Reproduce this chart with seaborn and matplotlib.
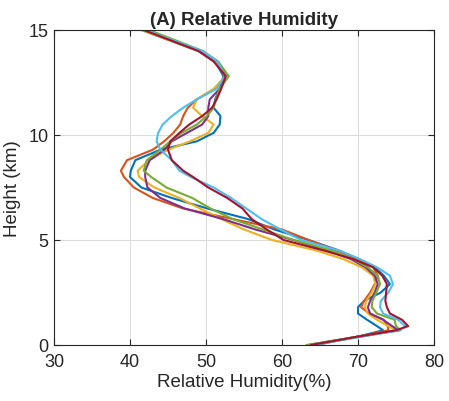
import numpy as np
import pandas as pd
import matplotlib
matplotlib.use("Agg")
import matplotlib.pyplot as plt
import seaborn as sns

heights = [0, 0.4, 0.7, 0.9, 1.2, 1.5, 1.8, 2.1, 2.5, 2.9, 3.3, 3.7, 4.1, 4.5,
           5.0, 5.5, 6.0, 6.5, 7.0, 7.5, 8.0, 8.3, 8.8, 9.3, 9.7, 10.1, 10.5,
           10.9, 11.3, 11.7, 12.2, 12.8, 13.5, 14.0, 15.0]

rh_s1 = [64.5, 70.0, 73.3, 72.5, 71.2, 70.0, 70.0, 70.8, 73.0, 74.2, 73.4, 72.2, 70.0, 67.5,
         63.5, 59.0, 55.5, 50.2, 45.5, 41.5, 40.0, 40.1, 40.7, 44.0, 48.8, 51.0, 51.8,
         51.9, 51.0, 51.2, 51.8, 52.3, 51.2, 49.0, 41.5]
rh_s2 = [64.0, 70.0, 74.0, 73.9, 73.4, 71.5, 70.4, 70.8, 71.6, 72.2, 72.6, 72.0, 70.0, 67.2,
         63.5, 60.0, 53.5, 47.0, 43.0, 40.5, 39.2, 38.8, 39.6, 43.0, 44.5, 45.7, 46.6,
         47.0, 47.6, 48.8, 51.2, 52.5, 51.3, 49.2, 41.8]
rh_s3 = [64.0, 70.5, 75.0, 74.0, 72.5, 71.3, 70.9, 71.1, 71.8, 72.3, 72.0, 70.5, 68.0, 64.5,
         58.7, 55.0, 52.0, 49.2, 46.5, 43.2, 41.2, 41.0, 42.5, 45.0, 47.9, 50.3, 51.0,
         49.5, 48.3, 48.8, 51.0, 52.6, 51.3, 49.0, 41.5]
rh_s4 = [63.5, 70.0, 75.3, 74.5, 73.3, 71.6, 71.3, 71.6, 72.2, 72.6, 72.2, 71.0, 69.0, 66.0,
         61.5, 56.5, 52.2, 47.2, 44.0, 42.3, 42.0, 42.0, 42.6, 44.5, 45.5, 47.5, 49.5,
         50.3, 50.3, 50.5, 51.8, 52.6, 51.5, 49.3, 42.0]
rh_s5 = [63.2, 70.0, 75.6, 75.0, 74.8, 72.5, 71.8, 71.9, 72.4, 72.9, 72.6, 71.3, 69.3, 66.5,
         61.5, 57.5, 53.5, 50.6, 48.2, 44.8, 42.8, 41.8, 42.2, 44.0, 45.3, 46.8, 48.8,
         50.1, 51.0, 51.3, 51.8, 53.0, 51.6, 49.6, 42.5]
rh_s6 = [64.0, 70.5, 75.5, 76.2, 75.3, 73.3, 72.9, 73.0, 74.0, 74.6, 74.2, 72.5, 70.2, 67.5,
         62.5, 59.8, 57.3, 55.3, 53.3, 51.0, 48.0, 46.5, 45.5, 44.0, 43.5, 43.7, 44.3,
         45.5, 47.0, 48.8, 51.4, 52.5, 51.5, 49.5, 42.0]
rh_s7 = [63.8, 70.0, 75.0, 76.6, 75.8, 74.2, 73.8, 73.6, 73.7, 73.8, 73.2, 72.0, 69.3, 65.5,
         60.2, 58.0, 56.0, 54.8, 52.8, 50.3, 48.3, 47.0, 45.5, 45.0, 45.3, 46.5, 47.8,
         49.5, 50.8, 51.4, 52.0, 52.6, 51.0, 49.0, 41.8]

series_names = ["s1", "s2", "s3", "s4", "s5", "s6", "s7"]
series_values = [rh_s1, rh_s2, rh_s3, rh_s4, rh_s5, rh_s6, rh_s7]
colors = ["#0072BD", "#D95319", "#EDB120", "#7E2F8E", "#77AC30", "#4DBEEE", "#A2142F"]

x_ticks = [30, 40, 50, 60, 70, 80]
y_ticks = [0, 5, 10, 15]

rows = []
for name, vals in zip(series_names, series_values):
    for i, (h, v) in enumerate(zip(heights, vals)):
        rows.append({"series": name, "height": h, "rh": v, "idx": i})
df = pd.DataFrame(rows)

sns.set_theme(style="white")
plt.rcParams["font.family"] = ["Liberation Sans", "DejaVu Sans"]

fig = plt.figure(figsize=(4.49, 4.02), dpi=100)
ax = fig.add_axes([54 / 449, 56 / 402, 380 / 449, 315 / 402])

sns.lineplot(data=df, x="rh", y="height", hue="series", palette=colors,
             hue_order=series_names, sort=False, estimator=None, units="series",
             orient="y", legend=False, linewidth=1.5, ax=ax)

ax.set_xlim(30, 80)
ax.set_ylim(0, 15)
ax.set_xticks(x_ticks)
ax.set_yticks(y_ticks)
ax.grid(True, color="#dcdcdc", linewidth=0.8)
ax.set_axisbelow(True)
for s in ax.spines.values():
    s.set_visible(True)
    s.set_color("#262626")
    s.set_linewidth(0.8)
ax.tick_params(direction="in", length=4, width=0.8, colors="#262626",
               labelsize=13, top=True, right=True, bottom=True, left=True,
               labelcolor="#262626")
ax.tick_params(axis="x", pad=6)
ax.tick_params(axis="y", pad=4)
ax.set_xlabel("Relative Humidity(%)", fontsize=13.5, color="#262626", labelpad=2)
ax.set_ylabel("Height (km)", fontsize=13.5, color="#262626", labelpad=5)
ax.set_title("(A) Relative Humidity", fontsize=13.5, fontweight="bold", pad=4)

fig.savefig("out.png", dpi=100)
